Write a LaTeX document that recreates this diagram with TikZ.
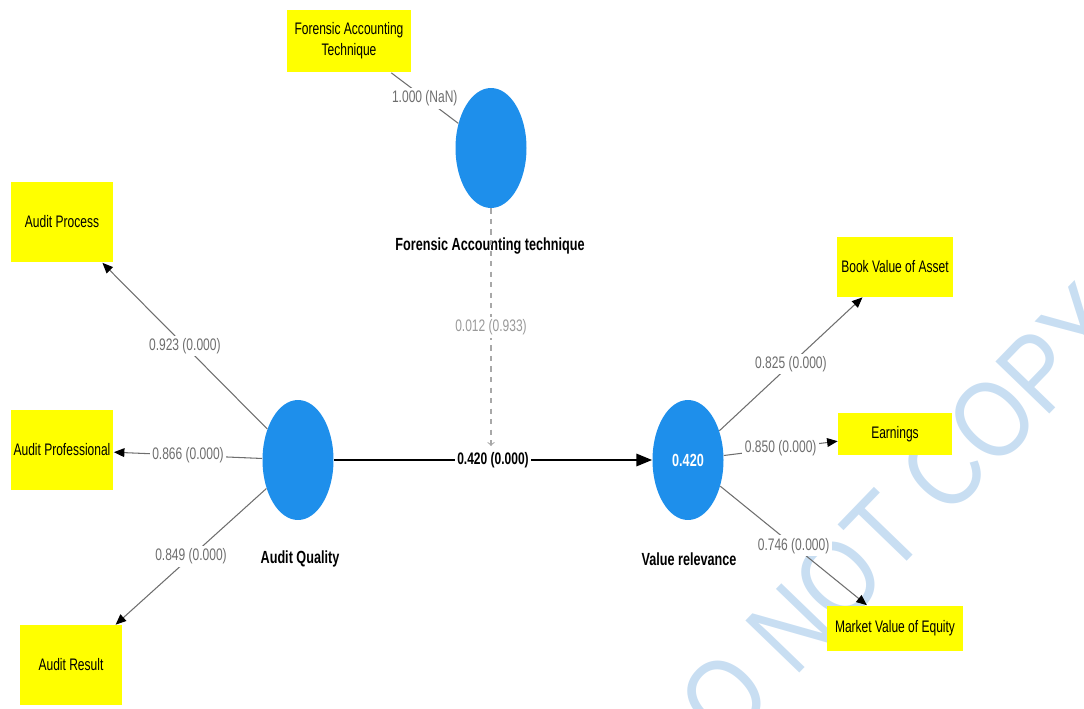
\documentclass[tikz,border=0pt]{standalone}
\usepackage{fontspec}
\setmainfont{Liberation Sans}[FakeStretch=0.72]
\newfontfamily\markfont{Liberation Sans}[FakeStretch=0.85]
\usetikzlibrary{shapes.geometric,arrows.meta}
\definecolor{pls_blue}{HTML}{1E8FEB}
\definecolor{pls_yellow}{HTML}{FFFF00}
\definecolor{pls_gray}{HTML}{6E6E6E}
\definecolor{mark_blue}{HTML}{C8DEF2}

\begin{document}
\begin{tikzpicture}[x=0.02cm,y=-0.02cm,>={Triangle[length=6pt,width=5pt]},
    latent/.style={ellipse,fill=pls_blue,minimum width=1.42cm,minimum height=2.4cm,inner sep=0pt},
    indicator/.style={fill=pls_yellow,align=center,inner sep=1pt,font=\fontsize{9.5}{12}\selectfont},
    loading/.style={-{Triangle[length=6pt,width=5pt,color=black]},pls_gray,line width=0.6pt},
    coef/.style={fill=white,inner sep=1.5pt,text=pls_gray,font=\fontsize{9.5}{11}\selectfont},
    caption/.style={font=\bfseries\fontsize{10}{12}\selectfont}]
  \useasboundingbox (0,0) rectangle (1084,709);
  % watermark
  \node[rotate=46,text=mark_blue,font=\markfont\fontsize{62}{62}\selectfont] (WM) at (878,538) {DO NOT COPY};
  % constructs
  \node[latent] (FAT) at (491,148) {};
  \node[caption] (FATl) at (490,246) {Forensic Accounting technique};
  \node[latent] (AQ) at (298,460) {};
  \node[caption] (AQl) at (300,559) {Audit Quality};
  \node[latent,text=white,font=\bfseries\fontsize{10}{12}\selectfont] (VR) at (688,460) {0.420};
  \node[caption] (VRl) at (689,559) {Value relevance};
  % indicators
  \node[indicator,minimum width=2.48cm,minimum height=1.26cm] (FATi) at (349,41) {Forensic Accounting\\Technique};
  \node[indicator,minimum width=2.06cm,minimum height=1.62cm] (AP) at (62,222) {Audit Process};
  \node[indicator,minimum width=2.06cm,minimum height=1.6cm] (APr) at (62,450) {Audit Professional};
  \node[indicator,minimum width=2.06cm,minimum height=1.6cm] (AR) at (71,665) {Audit Result};
  \node[indicator,minimum width=2.32cm,minimum height=1.2cm] (BVA) at (895,267) {Book Value of Asset};
  \node[indicator,minimum width=2.28cm,minimum height=0.84cm] (EARN) at (895,434) {Earnings};
  \node[indicator,minimum width=2.72cm,minimum height=0.9cm] (MVE) at (895,628) {Market Value of Equity};
  % paths
  \draw[pls_gray,line width=0.6pt] (FATi) -- node[coef] {1.000 (NaN)} (FAT);
  \draw[loading] (AQ) -- node[coef] {0.923 (0.000)} (AP);
  \draw[loading] (AQ) -- node[coef] {0.866 (0.000)} (APr);
  \draw[loading] (AQ) -- node[coef] {0.849 (0.000)} (AR);
  \draw[loading] (VR) -- node[coef] {0.825 (0.000)} (BVA);
  \draw[loading] (VR) -- node[coef] {0.850 (0.000)} (EARN);
  \draw[loading] (VR) -- node[coef] {0.746 (0.000)} (MVE);
  \coordinate (FATend) at (491,446);
  \draw[-to,dashed,pls_gray!60,line width=0.6pt] (FAT) -- node[coef,text=pls_gray!70] {0.012 (0.933)} (FATend);
  \draw[-{Triangle[length=9pt,width=7pt]},line width=1.3pt] (AQ) -- node[coef,text=black,font=\bfseries\fontsize{9.5}{11}\selectfont] {0.420 (0.000)} (VR);
\end{tikzpicture}
\end{document}
